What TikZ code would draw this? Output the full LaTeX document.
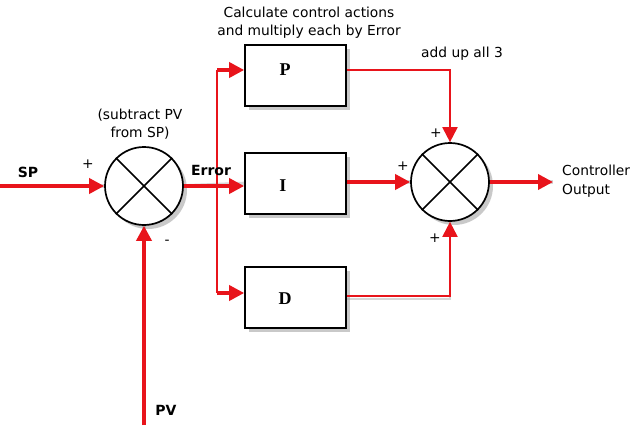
\documentclass[tikz,border=0pt]{standalone}
\usepackage{fontspec}
\setmainfont{DejaVu Sans}
\newfontfamily\blockfont{Liberation Serif}
\usetikzlibrary{arrows.meta,shadows}
\definecolor{sigred}{HTML}{E8141B}
\tikzset{
  px/.style={x=1pt,y=-1pt},
  blockbox/.style={draw=black,line width=1.7pt,fill=white,minimum width=101pt,minimum height=61pt,inner sep=0pt,
    drop shadow={shadow xshift=4pt,shadow yshift=-4pt,opacity=0.35,fill=black!60}},
  sumjn/.style={draw=black,line width=1.7pt,fill=white,circle,minimum size=78pt,inner sep=0pt,
    drop shadow={shadow xshift=4pt,shadow yshift=-4pt,opacity=0.35,fill=black!60}},
  thick sig/.style={draw=sigred,line width=3.6pt},
  thin sig/.style={draw=sigred,line width=2pt},
  tip/.style={-{Triangle[length=15pt,width=15pt]}},
  sh/.style={draw=black!40,opacity=0.4},
  lbl/.style={font=\fontsize{13.8}{18.5}\selectfont,inner sep=0pt,align=center},
  blbl/.style={font=\fontsize{14}{17}\selectfont\bfseries,inner sep=0pt},
  ltr/.style={font=\blockfont\fontsize{18}{20}\selectfont\bfseries,inner sep=0pt},
}
\begin{document}
\begin{tikzpicture}[px]
\useasboundingbox[fill=white] (0,0) rectangle (641,439);
% nodes
\node[sumjn] (s1) at (144,186) {};
\node[sumjn] (s2) at (450,182) {};
\node[blockbox] (bp) at (295.5,75.5) {};
\node[blockbox] (bi) at (295.5,183.5) {};
\node[blockbox] (bd) at (295.5,297.5) {};
\node[ltr] at (285,70) {P};
\node[ltr] at (283,186) {I};
\node[ltr] at (285,299) {D};
% crosses
\foreach \s in {s1,s2}{
  \draw[line width=1.5pt] (\s.north west) -- (\s.south east);
  \draw[line width=1.5pt] (\s.north east) -- (\s.south west);
}
% coordinates
\coordinate (spin) at (0,186);
\coordinate (pvin) at (144,425);
\coordinate (brtop) at (217,70);
\coordinate (brbot) at (217,293);
\coordinate (out) at (553,182);
% shadows of connectors
\begin{scope}[shift={(3,3)}]
\draw[sh,line width=3.6pt] (spin) -- (s1.west);
\draw[sh,line width=3.6pt] (pvin) -- (s1.south);
\draw[sh,line width=2pt] (brtop) -- (brbot);
\draw[sh,line width=3.6pt] (s1.east) -- (bi.west);
\draw[sh,line width=2pt] (bp.east |- brtop) -| (s2.north);
\draw[sh,line width=2pt] (bd.east |- 0,296) -| (s2.south);
\draw[sh,line width=3.6pt] (bi.east |- s2) -- (s2.west);
\draw[sh,line width=3.6pt] (s2.east) -- (out);
\end{scope}
% connectors
\draw[thick sig,tip] (spin) -- (s1.west);
\draw[thick sig,tip] (pvin) -- (s1.south);
\draw[thin sig] (brtop) -- (brbot);
\draw[thick sig,tip] (s1.east) -- (s1.east -| bi.west);
\draw[thick sig,tip] (brtop) -- (brtop -| bp.west);
\draw[thick sig,tip] (brbot) -- (brbot -| bd.west);
\draw[thin sig,tip] (bp.east |- brtop) -| (s2.north);
\draw[thin sig,tip] (bd.east |- 0,296) -| (s2.south);
\draw[thick sig,tip] (bi.east |- s2) -- (s2.west);
\draw[thick sig,tip] (s2.east) -- (out);
% labels
\node[blbl] (lsp) at (28,172) {SP};
\node[blbl] (lerr) at (211,170) {Error};
\node[blbl] (lpv) at (166,410) {PV};
\node[lbl] (lsub) at (140,124) {(subtract PV\\from SP)};
\node[lbl] (lcalc) at (309,22.5) {Calculate control actions\\and multiply each by Error};
\node[lbl] (ladd) at (462,54) {add up all 3};
\node[lbl,align=left,anchor=west] (lout) at (562,181) {Controller\\Output};
\node[lbl] (p1) at (88,164) {+};
\node[lbl] (m1) at (167,242) {-};
\node[lbl] (p2) at (436,133) {+};
\node[lbl] (p3) at (403,166) {+};
\node[lbl] (p4) at (435,238) {+};
\end{tikzpicture}
\end{document}
